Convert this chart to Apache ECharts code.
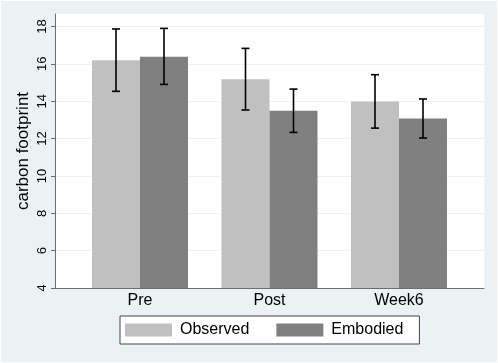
<!DOCTYPE html>
<html>
<head>
<meta charset="utf-8">
<script src="https://cdn.jsdelivr.net/npm/echarts@6/dist/echarts.min.js"></script>
<style>
html, body { margin: 0; padding: 0; background: #fff; }
#chart { position: absolute; left: 1px; top: 1px; width: 496px; height: 361px; }
</style>
</head>
<body>
<div id="chart"></div>
<script>
// data
var categories = ['Pre', 'Post', 'Week6'];
var observed = [16.19, 15.17, 13.99];
var observedLow = [14.53, 13.53, 12.56];
var observedHigh = [17.87, 16.83, 15.42];
var embodied = [16.38, 13.49, 13.08];
var embodiedLow = [14.9, 12.33, 12.03];
var embodiedHigh = [17.9, 14.65, 14.12];
var yTicks = [4, 6, 8, 10, 12, 14, 16, 18];

var fontFam = '"Liberation Sans", Arial, sans-serif';
var chart = echarts.init(document.getElementById('chart'));

// error bar drawer, offset in px from category centre
function errBar(offset) {
    return function (params, api) {
        var c = api.value(0);
        var lo = api.coord([c, api.value(1)]);
        var hi = api.coord([c, api.value(2)]);
        var x = lo[0] + offset;
        var st = { stroke: '#000', lineWidth: 1.6 };
        return {
            type: 'group',
            children: [
                { type: 'line', shape: { x1: x, y1: lo[1], x2: x, y2: hi[1] }, style: st },
                { type: 'line', shape: { x1: x - 4, y1: lo[1], x2: x + 4, y2: lo[1] }, style: st },
                { type: 'line', shape: { x1: x - 4, y1: hi[1], x2: x + 4, y2: hi[1] }, style: st }
            ]
        };
    };
}

var obsErr = categories.map(function (c, i) { return [i, observedLow[i], observedHigh[i]]; });
var embErr = categories.map(function (c, i) { return [i, embodiedLow[i], embodiedHigh[i]]; });

var yMin = 4, yMax = 18.67;

var option = {
    backgroundColor: '#eaf2f3',
    animation: false,
    textStyle: { fontFamily: fontFam },
    grid: [
        { left: 54, right: 13, top: 13, bottom: 74, show: true, backgroundColor: '#fff', borderWidth: 0 },
        { left: 74.25, right: 33.25, top: 13, bottom: 74 }
    ],
    legend: {
        left: 119, top: 315,
        backgroundColor: '#fff',
        borderColor: '#444',
        borderWidth: 1,
        padding: [6, 16, 6, 5],
        itemWidth: 47,
        itemHeight: 13,
        itemGap: 27,
        icon: 'rect',
        textStyle: { fontSize: 16, color: '#000', fontFamily: fontFam, padding: [0, 0, 0, 3] },
        data: ['Observed', 'Embodied']
    },
    xAxis: [
        {
            type: 'value', gridIndex: 0, min: 0, max: 1,
            axisLine: { show: true, onZero: false, lineStyle: { color: '#6e6e6e', width: 1 } },
            axisTick: { show: false }, axisLabel: { show: false }, splitLine: { show: false }
        },
        {
            type: 'category', gridIndex: 1, data: categories,
            axisLine: { show: false }, axisTick: { show: false },
            axisLabel: { color: '#000', fontSize: 16, margin: 5, fontFamily: fontFam }
        }
    ],
    yAxis: [
        {
            type: 'value', gridIndex: 0, min: yMin, max: yMax,
            name: 'carbon footprint', nameLocation: 'middle', nameGap: 23,
            nameMoveOverlap: false,
            nameTextStyle: { fontSize: 17, color: '#000', fontFamily: fontFam },
            axisLine: { show: true, lineStyle: { color: '#6e6e6e', width: 1 } },
            axisTick: { show: true, length: 4, customValues: yTicks, lineStyle: { color: '#6e6e6e' } },
            axisLabel: {
                customValues: yTicks, rotate: 90, fontSize: 13, color: '#000', margin: 6,
                fontFamily: fontFam
            },
            splitLine: { show: true, customValues: yTicks, lineStyle: { color: '#eaf2f3', width: 1 } }
        },
        {
            type: 'value', gridIndex: 1, min: yMin, max: yMax, show: false
        }
    ],
    series: [
        {
            name: 'Observed', type: 'bar', xAxisIndex: 1, yAxisIndex: 1,
            barWidth: 48, barGap: 0,
            itemStyle: { color: '#c0c0c0' },
            data: observed
        },
        {
            name: 'Embodied', type: 'bar', xAxisIndex: 1, yAxisIndex: 1,
            barWidth: 48, barGap: 0,
            itemStyle: { color: '#808080' },
            data: embodied
        },
        {
            type: 'custom', xAxisIndex: 1, yAxisIndex: 1, z: 5,
            renderItem: errBar(-24), data: obsErr
        },
        {
            type: 'custom', xAxisIndex: 1, yAxisIndex: 1, z: 5,
            renderItem: errBar(24), data: embErr
        }
    ]
};
chart.setOption(option);
</script>
</body>
</html>
